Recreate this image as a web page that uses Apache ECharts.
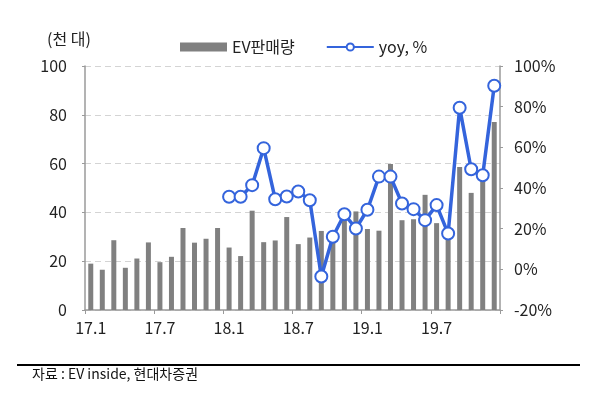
<!DOCTYPE html>
<html>
<head>
<meta charset="utf-8">
<script src="https://cdn.jsdelivr.net/npm/echarts@6/dist/echarts.min.js"></script>
<style>
html,body{margin:0;padding:0;background:#fff;}
#c{width:600px;height:393px;}
</style>
</head>
<body>
<div id="c"></div>
<script>
const categories = [
  '17.1','17.2','17.3','17.4','17.5','17.6','17.7','17.8','17.9','17.10','17.11','17.12',
  '18.1','18.2','18.3','18.4','18.5','18.6','18.7','18.8','18.9','18.10','18.11','18.12',
  '19.1','19.2','19.3','19.4','19.5','19.6','19.7','19.8','19.9','19.10','19.11','19.12'
];
const evSales = [
  19.0, 16.5, 28.6, 17.3, 21.1, 27.7, 19.6, 21.8, 33.6, 27.6, 29.2, 33.6,
  25.6, 22.1, 40.7, 27.8, 28.5, 38.1, 27.0, 29.7, 32.4, 30.5, 37.5, 40.4,
  33.2, 32.5, 59.8, 36.8, 37.2, 47.2, 35.6, 30.5, 58.6, 48.0, 54.0, 77.0
];
const yoy = [
  null, null, null, null, null, null, null, null, null, null, null, null,
  35.7, 35.7, 41.4, 59.6, 34.5, 35.8, 38.3, 34.0, -3.5, 16.0, 27.1, 20.1,
  29.3, 45.6, 45.6, 32.4, 29.6, 24.2, 31.6, 17.6, 79.5, 49.2, 46.3, 90.3
];
const leftTicks = {min: 0, max: 100, interval: 20};
const rightTicks = {min: -20, max: 100, interval: 20};
const seriesNames = ['EV판매량', 'yoy, %'];
const unitLabel = '(천 대)';
const sourceText = '자료 : EV inside, 현대차증권';

const FONT = '"Noto Sans CJK KR", "Noto Sans", sans-serif';
const BLUE = '#3464dc';
const chart = echarts.init(document.getElementById('c'), null, {renderer: 'canvas'});
chart.setOption({
  animation: false,
  textStyle: {fontFamily: FONT},
  grid: {left: 85, right: 100, top: 66, bottom: 83, containLabel: false},
  legend: {
    left: 175, top: 34,
    itemWidth: 47, itemHeight: 9, itemGap: 31,
    textStyle: {fontSize: 16, color: '#222', fontFamily: FONT},
    data: [
      {name: seriesNames[0], icon: 'rect'},
      {name: seriesNames[1]}
    ]
  },
  xAxis: {
    type: 'category',
    data: categories,
    boundaryGap: true,
    axisLine: {lineStyle: {color: '#9a9a9a', width: 1.5}},
    axisTick: {show: true, interval: 5, length: 4, lineStyle: {color: '#9a9a9a'}},
    axisLabel: {interval: 5, fontSize: 16, color: '#222', margin: 10, fontFamily: FONT}
  },
  yAxis: [
    {
      type: 'value', min: leftTicks.min, max: leftTicks.max, interval: leftTicks.interval,
      axisLine: {show: true, lineStyle: {color: '#9a9a9a', width: 1.5}},
      axisTick: {show: true, length: 3, lineStyle: {color: '#9a9a9a'}},
      axisLabel: {fontSize: 16, color: '#222', margin: 18, fontFamily: FONT},
      splitLine: {show: true, lineStyle: {color: '#d4d4d4', type: [6, 4], width: 1.2}}
    },
    {
      type: 'value', min: rightTicks.min, max: rightTicks.max, interval: rightTicks.interval,
      position: 'right',
      axisLine: {show: true, lineStyle: {color: '#9a9a9a', width: 1.5}},
      axisTick: {show: true, length: 3, lineStyle: {color: '#9a9a9a'}},
      axisLabel: {fontSize: 16, color: '#222', margin: 14, formatter: '{value}%', fontFamily: FONT},
      splitLine: {show: false}
    }
  ],
  series: [
    {
      name: seriesNames[0], type: 'bar', data: evSales, barWidth: 5,
      itemStyle: {color: '#808080'}, z: 2
    },
    {
      name: seriesNames[1], type: 'line', yAxisIndex: 1, data: yoy,
      symbol: 'circle', symbolSize: 12, showSymbol: true, showAllSymbol: true,
      lineStyle: {color: BLUE, width: 3.5},
      itemStyle: {color: '#fff', borderColor: BLUE, borderWidth: 2},
      z: 5
    }
  ],
  graphic: [
    {type: 'text', left: 47, top: 31, style: {text: unitLabel, fontSize: 16, fill: '#222', fontFamily: FONT}},
    {type: 'line', shape: {x1: 17, y1: 365, x2: 580, y2: 365}, style: {stroke: '#000', lineWidth: 2}},
    {type: 'text', left: 32, top: 367, style: {text: sourceText, fontSize: 14, fill: '#111', fontFamily: FONT}}
  ]
});
</script>
</body>
</html>
